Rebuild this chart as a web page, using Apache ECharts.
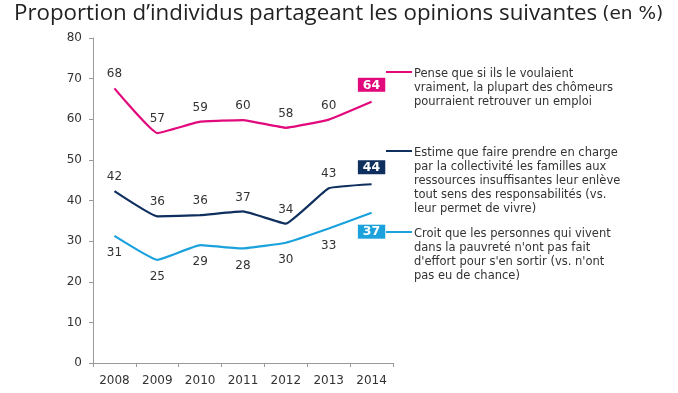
<!DOCTYPE html>
<html><head><meta charset="utf-8">
<script src="https://cdn.jsdelivr.net/npm/echarts@6/dist/echarts.min.js"></script>
<style>html,body{margin:0;padding:0;background:#fff}#c{width:678px;height:393px}</style>
</head><body><div id="c"></div>
<script>
const years = ['2008','2009','2010','2011','2012','2013','2014'];
const chomeurs = [67.6, 56.6, 59.4, 59.8, 57.9, 59.9, 64.3];
const collectivite = [42.3, 36.1, 36.4, 37.3, 34.3, 43.0, 44.0];
const pauvrete = [31.3, 25.4, 29.0, 28.2, 29.6, 33.1, 37.0];
const seriesNames = [
  'Pense que si ils le voulaient\nvraiment, la plupart des chômeurs\npourraient retrouver un emploi',
  'Estime que faire prendre en charge\npar la collectivité les familles aux\nressources insuffisantes leur enlève\ntout sens des responsabilités (vs.\nleur permet de vivre)',
  'Croit que les personnes qui vivent\ndans la pauvreté n\'ont pas fait\nd\'effort pour s\'en sortir (vs. n\'ont\npas eu de chance)'
];
const yTicks = [0,10,20,30,40,50,60,70,80];
const colors = ['#e2097d', '#0f2f5f', '#1ba2dc'];

const chart = echarts.init(document.getElementById('c'));
const FONT = 'DejaVu Sans';

function mkSeries(name, data, color, pos, dist) {
  return {
    name, type: 'line', data, smooth: 0.1, symbol: 'circle', symbolSize: 0.01, showSymbol: true,
    lineStyle: { color, width: 2.2 },
    itemStyle: { color },
    label: {
      show: true, position: pos, distance: dist,
      fontFamily: FONT, fontSize: 12, color: '#333',
      formatter: p => String(Math.round(p.value))
    },
    labelLayout: { hideOverlap: false }
  };
}
const s = [
  mkSeries(seriesNames[0], chomeurs, colors[0], 'top', 8),
  mkSeries(seriesNames[1], collectivite, colors[1], 'top', 8),
  mkSeries(seriesNames[2], pauvrete, colors[2], 'bottom', 11)
];
[0,1,2].forEach(i => {
  const arr = s[i].data;
  s[i].data = arr.map((v, j) => j === arr.length - 1 ? {
    value: v,
    label: { backgroundColor: colors[i], color: '#fff', fontWeight: 'bold', fontSize: 12.5, padding: [1,5,0,5], distance: i===2 ? 12 : 10 }
  } : v);
});

const legendY = [72, 151, 232];
const graphics = [];
seriesNames.forEach((n, i) => {
  graphics.push({ type: 'line', shape: { x1: 386, y1: legendY[i], x2: 412, y2: legendY[i] }, style: { stroke: colors[i], lineWidth: 2 } });
  graphics.push({ type: 'text', left: 414, top: legendY[i] - 5, style: { text: n, font: '11.5px "DejaVu Sans"', fill: '#333', lineHeight: 14 } });
});

chart.setOption({
  animation: false,
  title: {
    text: '{a|Proportion d\u2019individus partageant les opinions suivantes} {b|(en %)}',
    left: 9, top: -2,
    textStyle: { fontWeight: 'normal', rich: {
      a: { fontFamily: 'Open Sans', fontSize: 22.3, color: '#222', fontWeight: 'normal' },
      b: { fontFamily: 'DejaVu Sans', fontSize: 18.5, color: '#222', fontWeight: 'normal' }
    } }
  },
  grid: { left: 93, right: 285, top: 38, bottom: 30 },
  xAxis: {
    type: 'category', data: years, boundaryGap: true,
    axisLine: { lineStyle: { color: '#999' } },
    axisTick: { show: true, length: 4, lineStyle: { color: '#999' } },
    axisLabel: { fontFamily: FONT, fontSize: 12, color: '#333', margin: 12 }
  },
  yAxis: {
    type: 'value', min: yTicks[0], max: yTicks[yTicks.length-1], interval: yTicks[1]-yTicks[0],
    axisLine: { show: true, lineStyle: { color: '#999' } },
    axisTick: { show: true, length: 4, lineStyle: { color: '#999' } },
    splitLine: { show: false },
    axisLabel: { fontFamily: FONT, fontSize: 12, color: '#333', margin: 11 }
  },
  series: s,
  graphic: graphics
});
</script></body></html>
